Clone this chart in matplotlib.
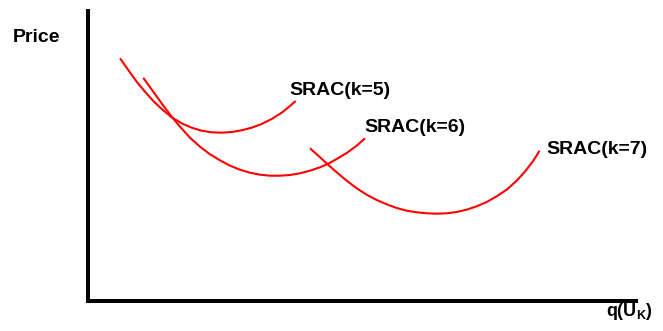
import matplotlib
matplotlib.use("Agg")
import matplotlib.pyplot as plt

# Data (x: quantity, y: price, arbitrary units)
k5_x = [32, 40.3, 48.7, 57, 65.3, 73.7, 83.7, 93.7, 103.7, 113.7, 123.7, 133.7,
        143.7, 153.7, 163.7, 173.7, 183.7, 193.7, 200.3, 207.7]
k5_y = [242.7, 231, 219.3, 209.3, 200, 192, 183.7, 177.7, 173.3, 170.3, 168.7, 168.3,
        169, 170.7, 173.3, 177, 182, 188.3, 193.6, 200]

k6_x = [55.3, 65.3, 75.3, 83.7, 92, 102, 112, 122, 132, 142, 152, 162, 172, 182,
        192, 202, 212, 222, 232, 240.3, 248.7, 258.7, 268.7, 277]
k6_y = [223.2, 209.3, 195.3, 184.3, 174.3, 163.3, 154.3, 146.7, 140.7, 135.3, 131.3,
        128.3, 126.3, 125.3, 125.3, 126, 127.7, 130.3, 133.7, 137.3, 142, 148, 155.3, 162.7]

k7_x = [222, 230.3, 239.3, 248.7, 258.7, 268.7, 278.7, 288.7, 298.7, 308.7, 318.7,
        328.7, 338.7, 348.7, 358.7, 368.7, 378.7, 388.7, 398.7, 408.7, 418.7, 428.7,
        437, 445.3, 451.5]
k7_y = [152.7, 145.3, 137, 128.7, 120.3, 112.7, 106.3, 101, 96.7, 93, 90.3, 88.7,
        87.7, 87.3, 87.7, 89, 91.3, 94.7, 99, 104.7, 111.3, 120.3, 129.4, 140.2, 150.2]

labels = ["SRAC(k=5)", "SRAC(k=6)", "SRAC(k=7)"]
y_label = "Price"
x_label = r"$\mathbf{q(U_K)}$"

plt.rcParams['font.family'] = ['Liberation Sans', 'DejaVu Sans']
plt.rcParams['mathtext.fontset'] = 'custom'
plt.rcParams['mathtext.bf'] = 'Liberation Sans:bold'
plt.rcParams['mathtext.rm'] = 'Liberation Sans'

W, H = 663, 331
fig = plt.figure(figsize=(W / 100, H / 100), dpi=100)
ax = fig.add_axes([88 / W, 1 - 301 / H, (636 - 88) / W, (301 - 11) / H])
ax.set_xlim(0, 548)
ax.set_ylim(0, 290)

for xs, ys in [(k5_x, k5_y), (k6_x, k6_y), (k7_x, k7_y)]:
    ax.plot(xs, ys, color='#ff0000', lw=1.5, solid_capstyle='butt',
            solid_joinstyle='round', antialiased=True)

for s in ['top', 'right']:
    ax.spines[s].set_visible(False)
for s in ['left', 'bottom']:
    ax.spines[s].set_linewidth(2.9)
    ax.spines[s].set_color('black')
ax.set_xticks([])
ax.set_yticks([])
ax.patch.set_alpha(0)

def ftext(px, py, s, size=14):
    fig.text(px / W, 1 - py / H, s, fontsize=size, fontweight='bold',
             ha='left', va='baseline', color='black')

ftext(289, 95, labels[0])
ftext(364, 131.5, labels[1])
ftext(546.5, 153.5, labels[2])
ftext(12.5, 42.3, y_label)
ftext(606.5, 316.5, x_label, size=13)

fig.savefig("out.png", dpi=100)
